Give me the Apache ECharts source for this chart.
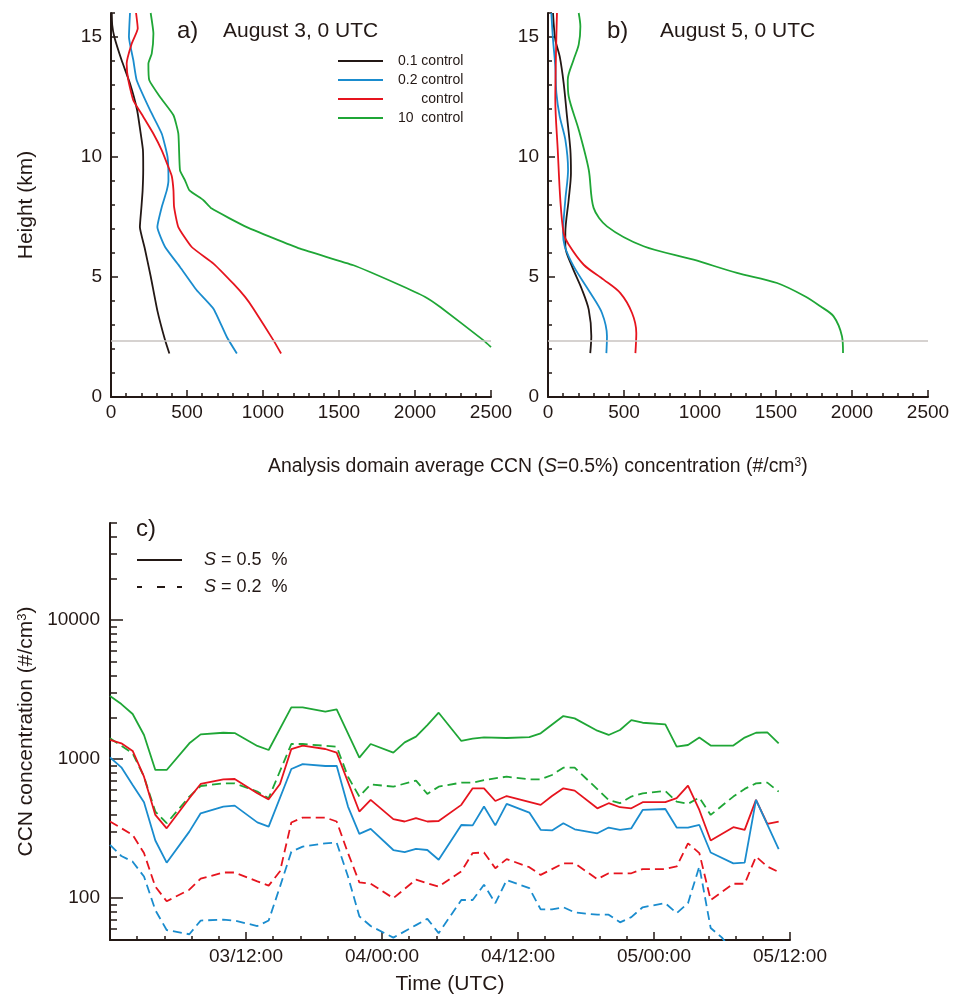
<!DOCTYPE html>
<html>
<head>
<meta charset="UTF-8">
<title>CCN profiles</title>
<script src="https://cdn.jsdelivr.net/npm/echarts@6/dist/echarts.min.js"></script>
<style>
    body { margin: 0; background: #fff; }
    #main { width: 961px; height: 1000px; }
</style>
</head>
<body>
<div id="main"></div>
<script type="text/javascript">

    // ---- panel a : August 3, 0 UTC  [concentration, height km] ----
    var aBlack = [[384,1.81],[356,2.36],[305,3.6],[262,5.0],[222,6.2],[190,7.08],[200,7.9],[208,8.6],[212,9.5],[210,10.3],[195,11.0],[172,11.95],[125,13.06],[70,14.03],[22,15.0],[8,15.5],[5,16]];
    var aBlue = [[828,1.81],[762,2.5],[674,3.68],[564,4.45],[454,5.42],[356,6.25],[305,7.08],[334,7.92],[367,8.61],[378,9.03],[372,10.0],[334,10.97],[257,11.95],[169,13.2],[147,14.03],[118,15.0],[125,16]];
    var aRed = [[1119,1.81],[1069,2.36],[937,3.68],[882,4.17],[805,4.72],[674,5.56],[531,6.25],[443,7.08],[415,7.92],[411,8.61],[400,9.2],[378,9.58],[334,10.28],[279,10.97],[213,11.67],[147,12.36],[114,13.2],[103,13.89],[136,14.72],[176,15.35],[165,16]];
    var aGreen = [[2500,2.08],[2451,2.36],[2166,3.75],[2067,4.17],[1881,4.72],[1595,5.49],[1244,6.18],[893,7.08],[663,7.85],[608,8.2],[516,8.61],[487,9.03],[454,9.44],[443,10.97],[411,11.74],[323,12.5],[252,13.2],[246,13.89],[268,14.31],[279,15.14],[261,16]];

    // ---- panel b : August 5, 0 UTC ----
    var bBlack = [[278,1.83],[285,2.53],[268,3.64],[224,4.47],[158,5.44],[114,6.28],[114,6.83],[136,8.22],[151,9.33],[147,10.31],[125,11.69],[103,13.08],[77,14.19],[48,14.89],[33,16]];
    var bBlue = [[384,1.83],[388,2.53],[355,3.5],[279,4.33],[169,5.44],[110,6.28],[99,6.83],[114,8.22],[132,9.47],[114,10.72],[77,11.69],[55,12.67],[48,13.78],[33,14.89],[22,16]];
    var bRed = [[575,1.83],[581,2.67],[553,3.5],[476,4.33],[366,4.89],[235,5.51],[136,6.35],[103,6.83],[81,8.22],[64,10.31],[48,12.39],[53,14.47],[59,16]];
    var bGreen = [[1941,1.83],[1934,2.53],[1879,3.36],[1792,3.78],[1693,4.19],[1507,4.75],[1243,5.17],[958,5.72],[629,6.28],[388,7.11],[300,7.88],[268,9.47],[202,11.14],[136,12.53],[130,13.22],[169,14.06],[202,14.68],[213,15.44],[202,16]];

    var groundHeight = 2.35; // grey line, km
    var profileNames = ['0.1 control', '0.2 control', 'control', '10  control'];
    var heightMajor = [0, 5, 10, 15];
    var heightMinor = [1, 2, 3, 4, 6, 7, 8, 9, 11, 12, 13, 14, 16];

    // ---- panel c : time series [hours since 03/00:00, #/cm3] ----
    var cGreenS = [[0,2845],[1,2490],[2,2113],[3,1493],[4,836],[5,836],[7,1300],[8,1507],[10,1549],[11,1540],[13,1245],[14,1164],[16,2355],[17,2355],[19,2194],[20,2281],[22,1026],[23,1285],[25,1115],[26,1321],[27,1452],[28,1758],[29,2158],[31,1352],[32,1403],[33,1435],[35,1420],[37,1440],[38,1534],[40,2043],[41,1964],[43,1603],[44,1493],[45,1622],[46,1909],[47,1828],[49,1778],[50,1230],[51,1264],[52,1429],[53,1252],[55,1252],[56,1429],[57,1549],[58,1560],[59,1300]];
    var cGreenD = [[0,1413],[2,1102],[3,748],[4,420],[5,346],[7,538],[8,641],[10,670],[11,670],[13,584],[14,524],[16,1285],[17,1285],[20,1230],[21,748],[22,538],[23,659],[25,634],[27,701],[28,562],[29,634],[31,678],[32,678],[33,708],[35,748],[37,716],[38,716],[39,769],[40,869],[41,869],[44,509],[45,482],[46,538],[47,568],[49,590],[50,495],[51,477],[52,529],[53,397],[55,538],[56,611],[57,670],[58,678],[59,584]];
    var cRedS = [[0,1374],[1,1300],[2,1146],[3,748],[4,397],[5,318],[7,524],[8,663],[10,716],[11,720],[13,568],[14,514],[15,663],[16,1183],[17,1250],[19,1183],[20,1115],[22,420],[23,509],[25,370],[26,356],[27,376],[28,356],[29,359],[31,469],[32,617],[33,617],[34,500],[35,543],[38,469],[39,543],[40,617],[41,594],[43,443],[44,482],[45,451],[46,443],[47,490],[49,490],[50,524],[51,646],[52,431],[53,260],[55,324],[56,310],[57,509],[58,342],[59,356]];
    var cRedD = [[0,356],[2,285],[3,211],[4,121],[5,95],[7,115],[8,138],[10,153],[11,153],[13,132],[14,123],[15,156],[16,350],[17,380],[19,380],[20,356],[21,211],[22,130],[23,127],[25,100],[27,136],[28,128],[29,121],[31,156],[32,211],[33,213],[34,164],[35,191],[37,167],[38,147],[40,178],[41,178],[43,137],[44,151],[46,151],[47,162],[49,162],[50,169],[51,248],[52,211],[53,97],[55,127],[56,127],[57,199],[58,169],[59,154]];
    var cBlueS = [[0,1031],[1,873],[2,652],[3,490],[4,260],[5,180],[7,301],[8,408],[10,456],[11,463],[13,351],[14,327],[16,849],[17,922],[19,893],[20,896],[21,456],[22,290],[23,315],[25,222],[26,214],[27,226],[28,222],[29,189],[31,336],[32,334],[33,456],[34,334],[35,477],[37,413],[38,310],[39,307],[40,346],[41,313],[43,293],[44,322],[45,310],[46,318],[47,431],[49,438],[50,322],[51,322],[52,336],[53,213],[55,178],[56,180],[57,509],[59,225]];
    var cBlueD = [[0,242],[1,201],[2,183],[3,143],[4,82],[5,59],[7,55],[8,69],[10,70],[11,69],[13,63],[14,69],[15,121],[16,216],[17,235],[19,248],[20,251],[21,143],[22,74],[23,63],[25,52],[27,64],[28,71],[29,56],[31,97],[32,97],[33,125],[34,92],[35,135],[37,118],[38,83],[39,83],[40,86],[41,79],[43,76],[44,76],[45,67],[46,73],[47,86],[49,92],[50,78],[51,92],[52,169],[53,61],[54,52],[55,40]];

    var timeTickHours = [12, 24, 36, 48, 60];
    var timeTickLabels = ['03/12:00', '04/00:00', '04/12:00', '05/00:00', '05/12:00'];
    var ccnMajor = [100, 1000, 10000];
    var ccnMinor = [];
    [10, 100, 1000, 10000].forEach(function (d) {
        for (var k = 2; k <= 9; k++) {
            if (k * d >= 50 && k * d <= 50000) ccnMinor.push(k * d);
        }
    });

    var ink = '#231815';
    var font = '"Liberation Sans", Arial, Helvetica, sans-serif';
    var cBlack = '#231815', cBlue = '#1a8cce', cRed = '#e6141e', cGreen = '#1fa636';

    var myChart = echarts.init(document.getElementById('main'));

    var axisLine = { show: true, onZero: false, lineStyle: { color: ink, width: 2 } };
    var tickStyle = { color: ink, width: 1.5 };
    var labelStyle = { color: ink, fontSize: 19, fontFamily: font };
    var nameStyle = { color: ink, fontSize: 21, fontFamily: font, rich: { sup: { fontSize: 13, fontFamily: font, color: ink, verticalAlign: 'top' } } };

    function log10(v) { return Math.log(v) / Math.LN10; }

    function concAxis(grid) {
        return {
            type: 'value', gridIndex: grid, position: 'bottom', min: 0, max: 2500, interval: 500,
            axisLine: axisLine,
            axisTick: { show: true, inside: true, length: 7, lineStyle: tickStyle },
            minorTick: { show: true, splitNumber: 5, length: 4, lineStyle: tickStyle },
            axisLabel: Object.assign({ margin: 6, formatter: function (v) { return String(v); } }, labelStyle),
            splitLine: { show: false }
        };
    }
    function heightAxis(grid, name) {
        return {
            type: 'value', gridIndex: grid, position: 'left', min: 0, max: 16,
            name: name, nameLocation: 'middle', nameGap: 74, nameTextStyle: nameStyle,
            axisLine: axisLine,
            axisTick: { show: true, inside: true, length: 7, lineStyle: tickStyle, customValues: heightMajor },
            axisLabel: Object.assign({ margin: 9, customValues: heightMajor }, labelStyle),
            splitLine: { show: false }
        };
    }
    function heightMinorAxis(grid) {
        return {
            type: 'value', gridIndex: grid, position: 'left', min: 0, max: 16,
            axisLine: { show: false },
            axisTick: { show: true, inside: true, length: 4, lineStyle: tickStyle, customValues: heightMinor },
            axisLabel: { show: false },
            splitLine: { show: false }
        };
    }

    function line(name, data, color, xi, yi, dashed, smooth) {
        return {
            type: 'line', name: name, data: data, xAxisIndex: xi, yAxisIndex: yi,
            symbol: 'none', silent: true, clip: true, smooth: smooth || false,
            lineStyle: { color: color, width: 1.8, type: dashed ? [9, 5] : 'solid' },
            itemStyle: { color: color }
        };
    }
    function ground() {
        return {
            silent: true, symbol: 'none', label: { show: false },
            lineStyle: { color: '#c9c3c1', type: 'solid', width: 1.5 },
            data: [{ yAxis: groundHeight }]
        };
    }

    var series = [];
    [[aBlack, cBlack], [aBlue, cBlue], [aRed, cRed], [aGreen, cGreen]].forEach(function (p, i) {
        var s = line(profileNames[i], p[0], p[1], 0, 0, false, 0.15);
        if (i === 0) s.markLine = ground();
        series.push(s);
    });
    [[bBlack, cBlack], [bBlue, cBlue], [bRed, cRed], [bGreen, cGreen]].forEach(function (p, i) {
        var s = line(profileNames[i], p[0], p[1], 1, 2, false, 0.3);
        if (i === 0) s.markLine = ground();
        series.push(s);
    });
    series.push(line('c green 0.5', cGreenS, cGreen, 2, 4, false));
    series.push(line('c green 0.2', cGreenD, cGreen, 2, 4, true));
    series.push(line('c red 0.5', cRedS, cRed, 2, 4, false));
    series.push(line('c red 0.2', cRedD, cRed, 2, 4, true));
    series.push(line('c blue 0.5', cBlueS, cBlue, 2, 4, false));
    series.push(line('c blue 0.2', cBlueD, cBlue, 2, 4, true));
    // legend-only entries for panel c
    series.push({ type: 'line', name: 'S05', data: [], xAxisIndex: 2, yAxisIndex: 4, symbol: 'none', lineStyle: { color: ink, width: 1.5 }, itemStyle: { color: ink } });
    series.push({ type: 'line', name: 'S02', data: [], xAxisIndex: 2, yAxisIndex: 4, symbol: 'none', lineStyle: { color: ink, width: 1.5, type: [5, 15, 8, 12] }, itemStyle: { color: ink } });

    var titleText = { color: ink, fontFamily: font, fontWeight: 'normal' };

    option = {
        animation: false,
        backgroundColor: '#fff',
        textStyle: { fontFamily: font },
        title: [
            { text: 'a)', left: 172, top: 14, textStyle: Object.assign({ fontSize: 24 }, titleText) },
            { text: 'August 3, 0 UTC', left: 218, top: 16, textStyle: Object.assign({ fontSize: 21 }, titleText) },
            { text: 'b)', left: 602, top: 14, textStyle: Object.assign({ fontSize: 24 }, titleText) },
            { text: 'August 5, 0 UTC', left: 655, top: 16, textStyle: Object.assign({ fontSize: 21 }, titleText) },
            { text: 'c)', left: 131, top: 512, textStyle: Object.assign({ fontSize: 24 }, titleText) },
            {
                text: 'Analysis domain average CCN ({it|S}=0.5%) concentration (#/cm{sup|3})',
                left: 263, top: 452,
                textStyle: Object.assign({
                    fontSize: 19.4,
                    rich: {
                        it: { fontSize: 19.4, fontStyle: 'italic', fontFamily: font, color: ink },
                        sup: { fontSize: 12, fontFamily: font, color: ink, verticalAlign: 'top' }
                    }
                }, titleText)
            }
        ],
        legend: [
            {
                data: profileNames, orient: 'vertical', left: 332, top: 49,
                itemWidth: 45, itemHeight: 12, itemGap: 5, selectedMode: false,
                itemStyle: { opacity: 0 },
                formatter: function (n) { return n === 'control' ? '      control' : n; },
                textStyle: { color: ink, fontSize: 14, fontFamily: font, padding: [0, 0, 0, 10] }
            },
            {
                data: ['S05', 'S02'], orient: 'vertical', left: 131, top: 546,
                itemWidth: 45, itemHeight: 14, itemGap: 9, selectedMode: false,
                itemStyle: { opacity: 0 },
                formatter: function (n) { return n === 'S05' ? '{it|S} = 0.5  %' : '{it|S} = 0.2  %'; },
                textStyle: {
                    color: ink, fontSize: 18, fontFamily: font, padding: [0, 0, 0, 17],
                    rich: { it: { fontSize: 18, fontStyle: 'italic', fontFamily: font, color: ink } }
                }
            }
        ],
        grid: [
            { left: 111, top: 13, width: 380, height: 384 },
            { left: 548, top: 13, width: 380, height: 384 },
            { left: 110, top: 523, width: 680, height: 417 }
        ],
        xAxis: [
            concAxis(0),
            concAxis(1),
            {
                type: 'value', gridIndex: 2, position: 'bottom', min: 0, max: 60, interval: 12,
                name: 'Time (UTC)', nameLocation: 'middle', nameGap: 34, nameTextStyle: nameStyle,
                axisLine: axisLine,
                axisTick: { show: true, inside: true, length: 8, lineStyle: tickStyle },
                minorTick: { show: true, splitNumber: 5, length: 4, lineStyle: tickStyle },
                axisLabel: Object.assign({
                    margin: 7,
                    formatter: function (v) {
                        var i = timeTickHours.indexOf(v);
                        return i >= 0 ? timeTickLabels[i] : '';
                    }
                }, labelStyle),
                splitLine: { show: false }
            }
        ],
        yAxis: [
            heightAxis(0, 'Height (km)'),
            heightMinorAxis(0),
            heightAxis(1, ''),
            heightMinorAxis(1),
            {
                type: 'log', logBase: 10, gridIndex: 2, position: 'left', min: 50, max: 50000,
                name: 'CCN concentration (#/cm{sup|3})', nameLocation: 'middle', nameGap: 73, nameTextStyle: nameStyle,
                axisLine: axisLine,
                axisTick: { show: false },
                axisLabel: { show: false },
                splitLine: { show: false }
            },
            {
                type: 'value', gridIndex: 2, position: 'left', min: log10(50), max: log10(50000),
                axisLine: { show: false },
                axisTick: { show: true, inside: true, length: 13, lineStyle: tickStyle, customValues: ccnMajor.map(log10) },
                axisLabel: Object.assign({
                    margin: 10, customValues: ccnMajor.map(log10),
                    formatter: function (v) { return String(Math.round(Math.pow(10, v))); }
                }, labelStyle),
                splitLine: { show: false }
            },
            {
                type: 'value', gridIndex: 2, position: 'left', min: log10(50), max: log10(50000),
                axisLine: { show: false },
                axisTick: { show: true, inside: true, length: 7, lineStyle: tickStyle, customValues: ccnMinor.map(log10) },
                axisLabel: { show: false },
                splitLine: { show: false }
            }
        ],
        series: series
    };

    myChart.setOption(option);

</script>
</body>
</html>
